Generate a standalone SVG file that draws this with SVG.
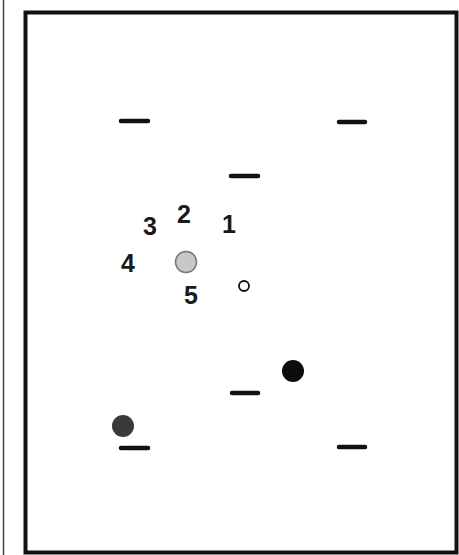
<svg xmlns="http://www.w3.org/2000/svg" width="459" height="555" viewBox="0 0 459 555">
<style>
.dash{stroke:#111;stroke-width:4.5;stroke-linecap:round}
.num{font-family:"Liberation Sans",Arial,sans-serif;font-weight:bold;font-size:25px;fill:#1a1a1a;text-anchor:middle}
</style>
<rect x="0" y="0" width="459" height="555" fill="#fff"/>
<line x1="3.5" y1="0" x2="3.5" y2="555" stroke="#444" stroke-width="1.5"/>
<rect x="25.5" y="12.5" width="431" height="540" fill="#fff" stroke="#111" stroke-width="4"/>
<g id="dashes">
<line class="dash" x1="121" y1="121" x2="148" y2="121"/>
<line class="dash" x1="339" y1="122" x2="365" y2="122"/>
<line class="dash" x1="231" y1="176" x2="258" y2="176"/>
<line class="dash" x1="232" y1="393" x2="258" y2="393"/>
<line class="dash" x1="121" y1="448" x2="148" y2="448"/>
<line class="dash" x1="339" y1="447" x2="365" y2="447"/>
</g>
<g id="labels">
<text class="num" x="229" y="233">1</text>
<text class="num" x="184" y="223">2</text>
<text class="num" x="150" y="235">3</text>
<text class="num" x="128" y="272">4</text>
<text class="num" x="191" y="304">5</text>
</g>
<g id="grey-circle"><circle cx="186" cy="262" r="10.5" fill="#c8c8c8" stroke="#777" stroke-width="1.5"/></g>
<g id="white-circle"><circle cx="244" cy="286" r="5" fill="#fff" stroke="#111" stroke-width="1.8"/></g>
<g id="black-circle"><circle cx="293" cy="371" r="11" fill="#0d0d0d"/></g>
<g id="dark-circle"><circle cx="123" cy="426" r="11" fill="#3a3a3a"/></g>
</svg>
